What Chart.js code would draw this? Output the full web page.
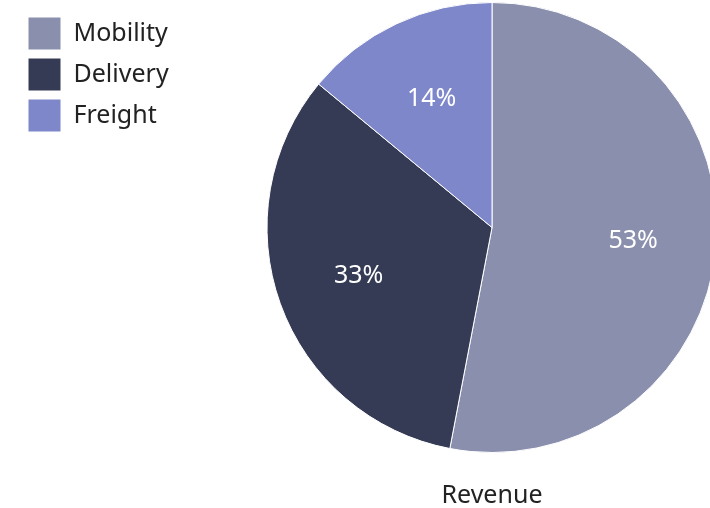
<!DOCTYPE html>
<html>
<head>
<meta charset="utf-8">
<script src="https://cdn.jsdelivr.net/npm/chart.js@4"></script>
<style>
  body { margin: 0; overflow: hidden; background: #fff; }
  #wrap { position: absolute; left: 0; top: 0; width: 964px; height: 508px; }
</style>
</head>
<body>
<div id="wrap"><canvas id="myChartRevenue"></canvas></div>
<script>
var segmentos = ["Mobility", "Delivery", "Freight"];
var receita = [53, 33, 14];
var cores = ["#8a8fae", "#353a55", "#7d87c9"];
var titulo = "Revenue";

Chart.defaults.font.family = "'Noto Sans', sans-serif";
Chart.defaults.color = "#222";

// desenha as porcentagens dentro das fatias
const rotulosPizza = {
  id: "rotulosPizza",
  afterDatasetsDraw(chart) {
    const ctx = chart.ctx;
    const meta = chart.getDatasetMeta(0);
    const total = receita.reduce((a, b) => a + b, 0);
    ctx.save();
    ctx.fillStyle = "#fff";
    ctx.font = "25px 'Noto Sans', sans-serif";
    ctx.textAlign = "center";
    ctx.textBaseline = "middle";
    meta.data.forEach(function (arc, i) {
      const p = arc.getProps(["x", "y", "startAngle", "endAngle", "outerRadius"], true);
      const meio = (p.startAngle + p.endAngle) / 2;
      const r = p.outerRadius * 0.63;
      const txt = Math.round((receita[i] / total) * 100) + "%";
      ctx.fillText(txt, p.x + Math.cos(meio) * r, p.y + Math.sin(meio) * r);
    });
    ctx.restore();
  },
};

const configRevenue = {
  type: "pie",
  data: {
    labels: segmentos,
    datasets: [
      {
        label: titulo,
        data: receita,
        backgroundColor: cores,
        borderColor: "#fff",
        borderWidth: 1,
      },
    ],
  },
  options: {
    responsive: true,
    maintainAspectRatio: false,
    animation: false,
    layout: { padding: { left: 20, top: 2, right: 0, bottom: 0 } },
    plugins: {
      legend: {
        position: "chartArea",
        align: "start",
        title: { display: true, text: "", font: { size: 9, lineHeight: 1 }, padding: 0 },
        labels: {
          boxWidth: 33,
          boxHeight: 33,
          padding: 8,
          font: { size: 25 },
          color: "#222",
        },
      },
      title: {
        display: true,
        text: titulo,
        position: "bottom",
        fullSize: false,
        font: { size: 25, weight: "normal", lineHeight: 1 },
        color: "#222",
        padding: { top: 30, bottom: 0 },
      },
      tooltip: { enabled: false },
    },
  },
  plugins: [rotulosPizza],
};

var myChartRevenue = new Chart(document.getElementById("myChartRevenue"), configRevenue);
</script>
</body>
</html>
